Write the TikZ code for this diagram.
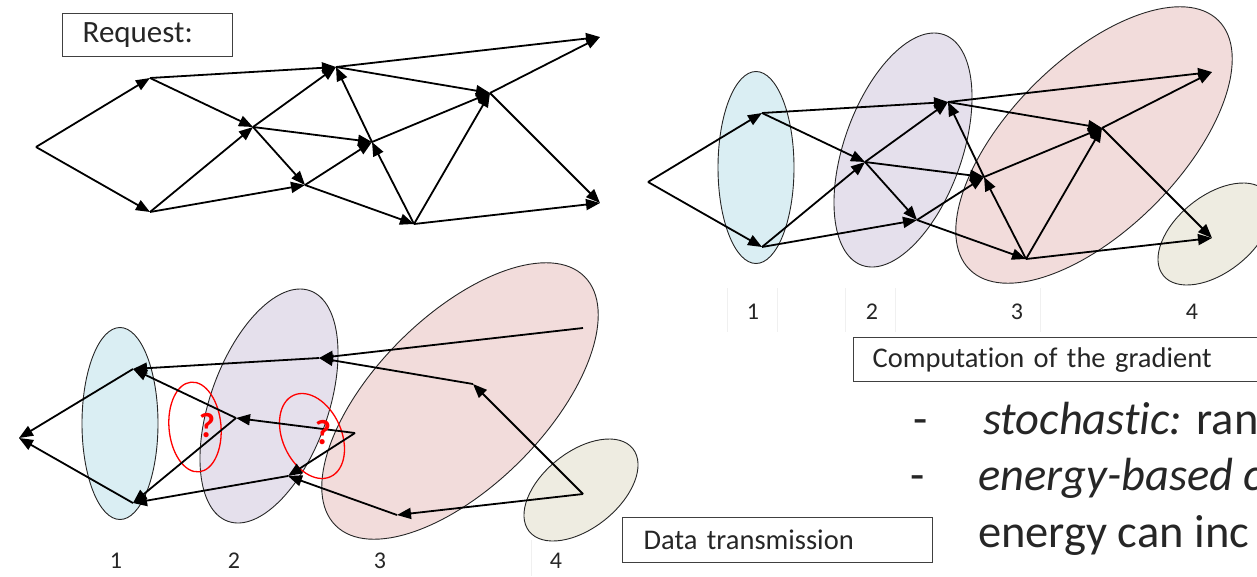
\documentclass[tikz,border=0pt]{standalone}
\usepackage{fontspec}
\setmainfont{Carlito}[Ligatures={NoCommon,NoContextual}]
\usetikzlibrary{arrows.meta,shapes.geometric}
\definecolor{eblue}{HTML}{DAEEF3}
\definecolor{epurple}{HTML}{E5E0EC}
\definecolor{epink}{HTML}{F2DCDB}
\definecolor{ebeige}{HTML}{EEECE1}
\definecolor{txt}{HTML}{262626}
\begin{document}
\begin{tikzpicture}[x=1pt,y=-1pt,
  edge/.style={line width=1.8pt,-{Triangle[length=14pt,width=11pt]}},
  ell/.style={ellipse,draw=black!85,line width=0.9pt,inner sep=0pt},
  redell/.style={ellipse,draw=red,line width=1.3pt,inner sep=0pt},
  lbl/.style={font=\fontsize{24}{27}\selectfont,text=txt,inner sep=0pt},
  boxnode/.style={draw=black!75,line width=1.4pt,anchor=north west,align=left,
    font=\fontsize{28.5}{32}\selectfont,text=txt,inner ysep=0pt},
  bullet/.style={font=\fontsize{46.5}{50}\selectfont,text=txt,anchor=base west,inner sep=0pt},
  qmark/.style={font=\bfseries\fontsize{35}{37}\selectfont,text=red,inner sep=0pt},
  faint/.style={draw=black!6,line width=0.8pt}]
\useasboundingbox (0,0) rectangle (1257,576);

% ---------- ellipses, top right ----------
\node[ell,fill=eblue,minimum width=76pt,minimum height=192pt] (tblue) at (756,167.5) {};
\node[ell,fill=epurple,minimum width=244.8pt,minimum height=117.8pt,rotate=70.4] (tpurple) at (903,150) {};
\node[ell,fill=epink,minimum width=352pt,minimum height=170pt,rotate=45] (tpink) at (1094,145) {};
\node[ell,fill=ebeige,minimum width=132.6pt,minimum height=76.4pt,rotate=38.6] (tbeige) at (1215,234) {};

% ---------- ellipses, bottom ----------
\node[ell,fill=eblue,minimum width=76pt,minimum height=192pt] (bblue) at (120,423.5) {};
\node[ell,fill=epurple,minimum width=244.8pt,minimum height=117.8pt,rotate=70.4] (bpurple) at (269,406) {};
\node[ell,fill=epink,minimum width=352pt,minimum height=170pt,rotate=45] (bpink) at (460,401) {};
\node[ell,fill=ebeige,minimum width=132.6pt,minimum height=76.4pt,rotate=38.6] (bbeige) at (581,490) {};

\node[redell,minimum width=52pt,minimum height=90pt,rotate=5] (red1) at (195,427) {};
\node[redell,minimum width=89.4pt,minimum height=58.8pt,rotate=114.3] (red2) at (312,436) {};

% ---------- faint table lines ----------
\foreach \xx [count=\i] in {727,777,845,895,1040}
  \draw[faint] (\xx,288) coordinate (fl\i) -- (\xx,332);
\draw[faint] (531,540) coordinate (flb) -- (531,576);

% ---------- graph coordinates ----------
% top-left (base minus (612,35))
\begin{scope}[shift={(-612,-35)}]
\coordinate (aL0) at (648,182);
\coordinate (aU1) at (762,113);
\coordinate (aD1) at (762,247);
\coordinate (aM2) at (865,162);
\coordinate (aB2) at (917,220);
\coordinate (aT3) at (948,102);
\coordinate (aC3) at (984,177);
\coordinate (aS3) at (1026,259);
\coordinate (aR4) at (1102,128);
\coordinate (aTR) at (1212,72);
\coordinate (aBR) at (1212,238);
\end{scope}
% top-right
\coordinate (bL0) at (648,182);
\coordinate (bU1) at (762,113);
\coordinate (bD1) at (762,247);
\coordinate (bM2) at (865,162);
\coordinate (bB2) at (917,220);
\coordinate (bT3) at (948,102);
\coordinate (bC3) at (984,177);
\coordinate (bS3) at (1026,259);
\coordinate (bR4) at (1102,128);
\coordinate (bTR) at (1212,72);
\coordinate (bBR) at (1212,238);
% bottom (base plus (-629,256))
\begin{scope}[shift={(-629,256)}]
\coordinate (cL0) at (648,182);
\coordinate (cU1) at (762,113);
\coordinate (cD1) at (762,247);
\coordinate (cM2) at (865,162);
\coordinate (cB2) at (917,220);
\coordinate (cT3) at (948,102);
\coordinate (cC3) at (984,177);
\coordinate (cS3) at (1026,259);
\coordinate (cR4) at (1102,128);
\coordinate (cTR) at (1212,72);
\coordinate (cBR) at (1212,238);
\end{scope}

% ---------- forward edges (top graphs) ----------
\foreach \g in {a,b}{
  \draw[edge] (\g L0) -- (\g U1);
  \draw[edge] (\g L0) -- (\g D1);
  \draw[edge] (\g U1) -- (\g T3);
  \draw[edge] (\g U1) -- (\g M2);
  \draw[edge] (\g D1) -- (\g M2);
  \draw[edge] (\g D1) -- (\g B2);
  \draw[edge] (\g M2) -- (\g T3);
  \draw[edge] (\g M2) -- (\g C3);
  \draw[edge] (\g M2) -- (\g B2);
  \draw[edge] (\g B2) -- (\g C3);
  \draw[edge] (\g B2) -- (\g S3);
  \draw[edge] (\g T3) -- (\g TR);
  \draw[edge] (\g T3) -- (\g R4);
  \draw[edge] (\g S3) -- (\g C3);
  \draw[edge] (\g C3) -- (\g T3);
  \draw[edge] (\g C3) -- (\g R4);
  \draw[edge] (\g S3) -- (\g R4);
  \draw[edge] (\g S3) -- (\g BR);
  \draw[edge] (\g R4) -- (\g TR);
  \draw[edge] (\g R4) -- (\g BR);
}

% ---------- backward edges (bottom graph) ----------
\draw[edge] (cU1) -- (cL0);
\draw[edge] (cD1) -- (cL0);
\draw[edge] (cT3) -- (cU1);
\draw[edge] (cM2) -- (cU1);
\draw[edge] (cM2) -- (cD1);
\draw[edge] (cB2) -- (cD1);
\draw[edge] (cTR) -- (cT3);
\draw[edge] (cR4) -- (cT3);
\draw[edge] (cBR) -- (cR4);
\draw[edge] (cC3) -- (cM2);
\draw[edge] (cC3) -- (cB2);
\draw[edge] (cS3) -- (cB2);
\draw[edge] (cBR) -- (cS3);

% ---------- question marks ----------
\node[qmark] (q1) at (207,426) {?};
\node[qmark] (q2) at (323,433) {?};

% ---------- labels ----------
\node[lbl] (t1) at (753,312) {1};
\node[lbl] (t2) at (872,312) {2};
\node[lbl] (t3) at (1017,312) {3};
\node[lbl] (t4) at (1192,312) {4};
\node[lbl] (b1) at (116,561) {1};
\node[lbl] (b2) at (234,561) {2};
\node[lbl] (b3) at (380,561) {3};
\node[lbl] (b4) at (556,561) {4};

% ---------- boxes ----------
\node[boxnode,minimum height=43pt,text width=130pt,inner xsep=20pt,font=\fontsize{31}{34}\selectfont] (req) at (62,13) {Request:};
\node[boxnode,minimum height=44pt,text width=384pt,inner xsep=19pt] (comp) at (853,337) {Computation of the gradient};
\node[boxnode,minimum height=45pt,text width=268pt,inner xsep=21pt] (data) at (622,517) {Data transmission};

% ---------- bullet text ----------
\node[bullet] (d1) at (913,434) {-};
\node[bullet] (s1) at (983,434) {\textit{stochastic:} ran};
\node[bullet] (d2) at (910,490) {-};
\node[bullet] (s2) at (978,490) {\textit{energy-based c}};
\node[bullet] (s3) at (978,547) {energy can inc};
\end{tikzpicture}
\end{document}
